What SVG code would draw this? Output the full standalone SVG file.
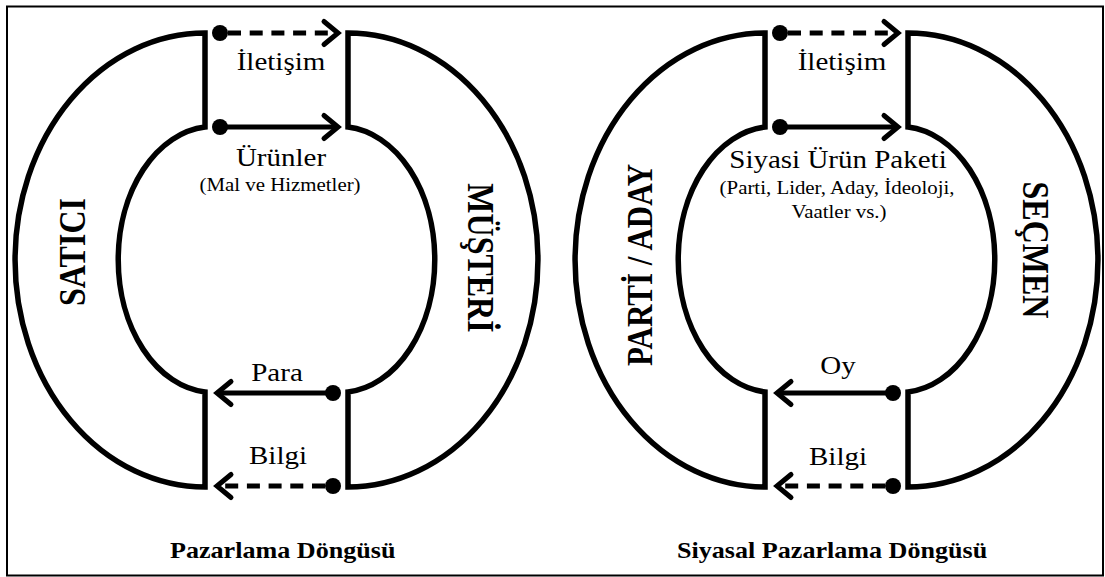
<svg xmlns="http://www.w3.org/2000/svg" width="1105" height="577" viewBox="0 0 1105 577">
<style>
.frame{fill:none;stroke:#000;stroke-width:2}
.shape{fill:none;stroke:#000;stroke-width:5.5;stroke-linejoin:miter}
.arr{fill:none;stroke:#000;stroke-width:5;marker-end:url(#chev)}
.dash{stroke-dasharray:13 8.7}
.dot{fill:#000}
text{font-family:'Liberation Serif','Times New Roman','DejaVu Serif',serif;fill:#000}
.lbl{font-size:25px;text-anchor:middle}
.sub{font-size:18px;text-anchor:middle}
.big{font-size:32px;font-weight:bold;text-anchor:middle}
.ttl{font-size:22.5px;font-weight:bold}
</style>
<defs>
<marker id="chev" markerUnits="userSpaceOnUse" viewBox="-20 -16 26 32" refX="0" refY="0" markerWidth="26" markerHeight="32" orient="auto" overflow="visible">
<path d="M-14,-11.5 L0,0 L-14,11.5" fill="none" stroke="#000" stroke-width="5" stroke-dasharray="none" stroke-linecap="round"/>
</marker>
</defs>
<rect class="frame" x="7" y="6.5" width="1096" height="569"/>

<g id="satici">
<path class="shape" d="M205,33 A190,227 0 0 0 205,487 L205,392 A95,133 0 0 1 205,127 Z"/>
<text class="big" transform="translate(85,252) scale(1.16,1) rotate(-90)">SATICI</text>
</g>
<g id="musteri">
<path class="shape" d="M348,33 A190,227 0 0 1 348,487 L348,392 A95,133 0 0 0 348,127 Z"/>
<text class="big" transform="translate(468,258) scale(1.16,1) rotate(90)">MÜŞTERİ</text>
</g>
<g id="parti">
<path class="shape" d="M765,33 A190,227 0 0 0 765,487 L765,392 A95,133 0 0 1 765,127 Z"/>
<text class="big" style="font-size:31px" transform="translate(652,265) scale(1.16,1) rotate(-90)">PARTİ / ADAY</text>
</g>
<g id="secmen">
<path class="shape" d="M908,33 A190,227 0 0 1 908,487 L908,392 A95,133 0 0 0 908,127 Z"/>
<text class="big" transform="translate(1023,250) scale(1.16,1) rotate(90)">SEÇMEN</text>
</g>

<g id="connectors">
<line class="arr dash" x1="228" y1="33" x2="338" y2="33"/>
<line class="arr" x1="220" y1="127" x2="338" y2="127"/>
<line class="arr" x1="333" y1="393" x2="217" y2="393"/>
<line class="arr dash" x1="325" y1="486" x2="217" y2="486"/>
<line class="arr dash" x1="788" y1="33" x2="898" y2="33"/>
<line class="arr" x1="780" y1="127" x2="898" y2="127"/>
<line class="arr" x1="893" y1="393" x2="777" y2="393"/>
<line class="arr dash" x1="885" y1="486" x2="777" y2="486"/>
<circle class="dot" cx="220" cy="33" r="8"/>
<circle class="dot" cx="220" cy="127" r="8"/>
<circle class="dot" cx="333" cy="393" r="8"/>
<circle class="dot" cx="333" cy="486" r="8"/>
<circle class="dot" cx="780" cy="33" r="8"/>
<circle class="dot" cx="780" cy="127" r="8"/>
<circle class="dot" cx="893" cy="393" r="8"/>
<circle class="dot" cx="893" cy="486" r="8"/>
</g>

<g id="labels">
<text class="lbl" transform="translate(281,70) scale(1.16,1)">İletişim</text>
<text class="lbl" transform="translate(281,166) scale(1.16,1)">Ürünler</text>
<text class="sub" transform="translate(280,191) scale(1.16,1)">(Mal ve Hizmetler)</text>
<text class="lbl" transform="translate(277,381) scale(1.16,1)">Para</text>
<text class="lbl" transform="translate(278,464) scale(1.16,1)">Bilgi</text>
<text class="lbl" transform="translate(842,70) scale(1.16,1)">İletişim</text>
<text class="lbl" transform="translate(838,168) scale(1.16,1)">Siyasi Ürün Paketi</text>
<text class="sub" transform="translate(837,194) scale(1.16,1)">(Parti, Lider, Aday, İdeoloji,</text>
<text class="sub" transform="translate(839,218) scale(1.16,1)">Vaatler vs.)</text>
<text class="lbl" transform="translate(838,374) scale(1.16,1)">Oy</text>
<text class="lbl" transform="translate(838,465) scale(1.16,1)">Bilgi</text>
</g>

<g id="titles">
<text class="ttl" transform="translate(170,558) scale(1.16,1)">Pazarlama Döngüsü</text>
<text class="ttl" transform="translate(677,558) scale(1.16,1)">Siyasal Pazarlama Döngüsü</text>
</g>
</svg>
